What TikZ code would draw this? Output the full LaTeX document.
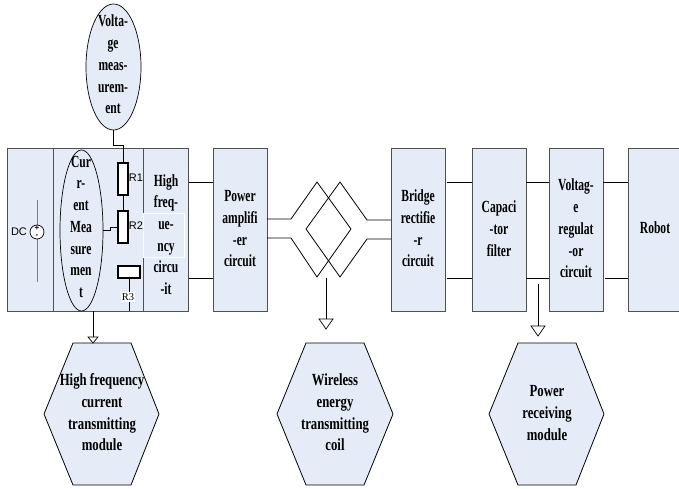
\documentclass[tikz,border=0pt]{standalone}
\usepackage{fontspec}
\setmainfont{Liberation Serif}
\setsansfont{Liberation Sans}
\usetikzlibrary{shapes.geometric,calc}
\definecolor{boxfill}{HTML}{E6ECF7}
\definecolor{boxline}{HTML}{505050}
\newcommand\tx[1]{\scalebox{.68}[1]{\fontsize{17}{21.7}\selectfont\bfseries\begin{tabular}{@{}c@{}}#1\end{tabular}}}
\newcommand\txw[1]{\scalebox{.75}[1]{\fontsize{17}{21.7}\selectfont\bfseries\begin{tabular}{@{}c@{}}#1\end{tabular}}}
\tikzset{
  blockbox/.style={draw=boxline,fill=boxfill,line width=1pt,inner sep=0pt,outer sep=0pt},
  oval/.style={shape=ellipse,draw=black,fill=boxfill,line width=.7pt,inner sep=0pt,outer sep=0pt},
  wire/.style={draw=black,line width=.8pt},
  hexa/.style={draw=black,fill=boxfill,line width=.8pt},
  resist/.style={draw=black,fill=white,line width=1.1pt,inner sep=0pt,outer sep=0pt},
  plain/.style={inner sep=0pt,font=\sffamily\fontsize{11}{12}\selectfont},
  hollowtip/.style={draw=black,fill=white,line width=.7pt}
}
\begin{document}
\begin{tikzpicture}[x=1pt,y=-1pt]
\useasboundingbox (0,0) rectangle (679,489);
% left block
\node[blockbox,minimum width=46pt,minimum height=162pt] (dc) at (30,230) {};
\node[blockbox,minimum width=90pt,minimum height=162pt] (mid) at (98,230) {};
\node[blockbox,minimum width=45pt,minimum height=162pt] (hf) at (165.5,230) {};
% DC source
\coordinate (dct) at (37,200);
\coordinate (dcb) at (37,282);
\draw[draw=gray,line width=.8pt] (dct) -- (dcb);
\node[draw=black,fill=white,shape=circle,minimum size=14pt,inner sep=0pt,line width=.7pt] (src) at (37,232) {};
\node[inner sep=0pt,font=\sffamily\bfseries\fontsize{8}{8}\selectfont] at (37,228) {+};
\node[inner sep=0pt,font=\sffamily\bfseries\fontsize{8}{8}\selectfont] at (37,236) {-};
\node[plain] (dclabel) at (19,232) {DC};
% white outline in hf
\draw[white,line width=.5pt] (143.5,213) rectangle (184,257);
% hf text
\node (hftext) at (166,236) {\tx{High\\freq-\\ue-\\ncy\\circu\\-it}};
% voltage ellipse
\node[oval,minimum width=55pt,minimum height=126pt] (vm) at (113.5,67) {};
\node at (113,66) {\tx{Volta-\\ge\\meas-\\urem-\\ent}};
% current ellipse
\node[oval,minimum width=43pt,minimum height=161pt] (cm) at (81.5,230.5) {};
\node at (81,228) {\tx{Cur\\r-\\ent\\Mea\\sure\\men\\t}};
% resistors
\node[resist,minimum width=10pt,minimum height=32pt] (r1) at (123,179) {};
\node[resist,minimum width=10pt,minimum height=32pt] (r2) at (123,227) {};
\node[resist,minimum width=22pt,minimum height=12pt] (r3) at (129,272) {};
\node[plain] (r1l) at (136,178) {R1};
\node[plain] (r2l) at (136,226) {R2};
\coordinate (r3b) at (129,311);
\draw[wire] (r3.south) -- (r3b);
\node[inner sep=1pt,fill=white,font=\fontsize{10.5}{11}\selectfont] (r3l) at (128,297) {R3};
\draw[wire] (vm.south) -- (113.5,145) -- (123,145) -- (r1.north);
\draw[wire] (r1.south) -- (r2.north);
\draw[wire] (cm.east) -- ++(7,0) -- ++(0,-3) -- (r2.west |- 0,227.5);
% boxes
\node[blockbox,minimum width=54pt,minimum height=162pt] (pa) at (240,230) {\tx{Power\\amplifi\\-er\\circuit}};
\node[blockbox,minimum width=54pt,minimum height=162pt] (br) at (418,230) {\tx{Bridge\\rectifie\\-r\\circuit}};
\node[blockbox,minimum width=54pt,minimum height=162pt] (cf) at (499,230) {\tx{Capaci\\-tor\\filter}};
\node[blockbox,minimum width=54pt,minimum height=162pt] (vr) at (576,230) {\tx{Voltag-\\e\\regulat\\-or\\circuit}};
\node[blockbox,minimum width=60pt,minimum height=162pt] (rb) at (658,230) {};
\node at (655,229) {\tx{Robot}};
% connections
\draw[wire] (189,182) -- (pa.west |- 0,182);
\draw[wire] (189,278) -- (pa.west |- 0,278);
\draw[wire] (447,182) -- (cf.west |- 0,182);
\draw[wire] (447,278) -- (cf.west |- 0,278);
\draw[wire] (cf.east |- 0,182) -- (vr.west |- 0,182);
\draw[wire] (cf.east |- 0,278) -- (vr.west |- 0,278);
\draw[wire] (vr.east |- 0,182) -- (rb.west |- 0,182);
\draw[wire] (605,278) -- (rb.west |- 0,278);
% coil
\draw[wire,line join=miter] (pa.east |- 0,219) -- (291,219) -- (317,182) -- (351,229) -- (317,277) -- (291,238) -- (pa.east |- 0,238);
\draw[wire,line join=miter] (br.west |- 0,220) -- (367,220) -- (340,182) -- (306,229) -- (340,277) -- (367,239) -- (br.west |- 0,239);
% hexagons
\draw[hexa] (44,414) -- (73,343) -- (131,343) -- (159,414) -- (131,485) -- (73,485) -- cycle;
\draw[hexa] (277,414) -- (306,343) -- (364,343) -- (393,414) -- (364,485) -- (306,485) -- cycle;
\draw[hexa] (489,414) -- (518,343) -- (576,343) -- (604,414) -- (576,485) -- (518,485) -- cycle;
\node (h1) at (102,414) {\txw{High frequency\\current\\transmitting\\module}};
\node (h2) at (335,414) {\txw{Wireless\\energy\\transmitting\\coil}};
\node (h3) at (547,414) {\txw{Power\\receiving\\module}};
% arrows
\draw[wire] (93,311) -- (93,337);
\draw[hollowtip] (88,337) -- (98,337) -- (93,343) -- cycle;
\draw[wire] (326,278) -- (326,319);
\draw[hollowtip] (319,319) -- (333,319) -- (326,329) -- cycle;
\draw[wire] (538,284) -- (538,326);
\draw[hollowtip] (531,326) -- (545,326) -- (538,336) -- cycle;
\end{tikzpicture}
\end{document}
